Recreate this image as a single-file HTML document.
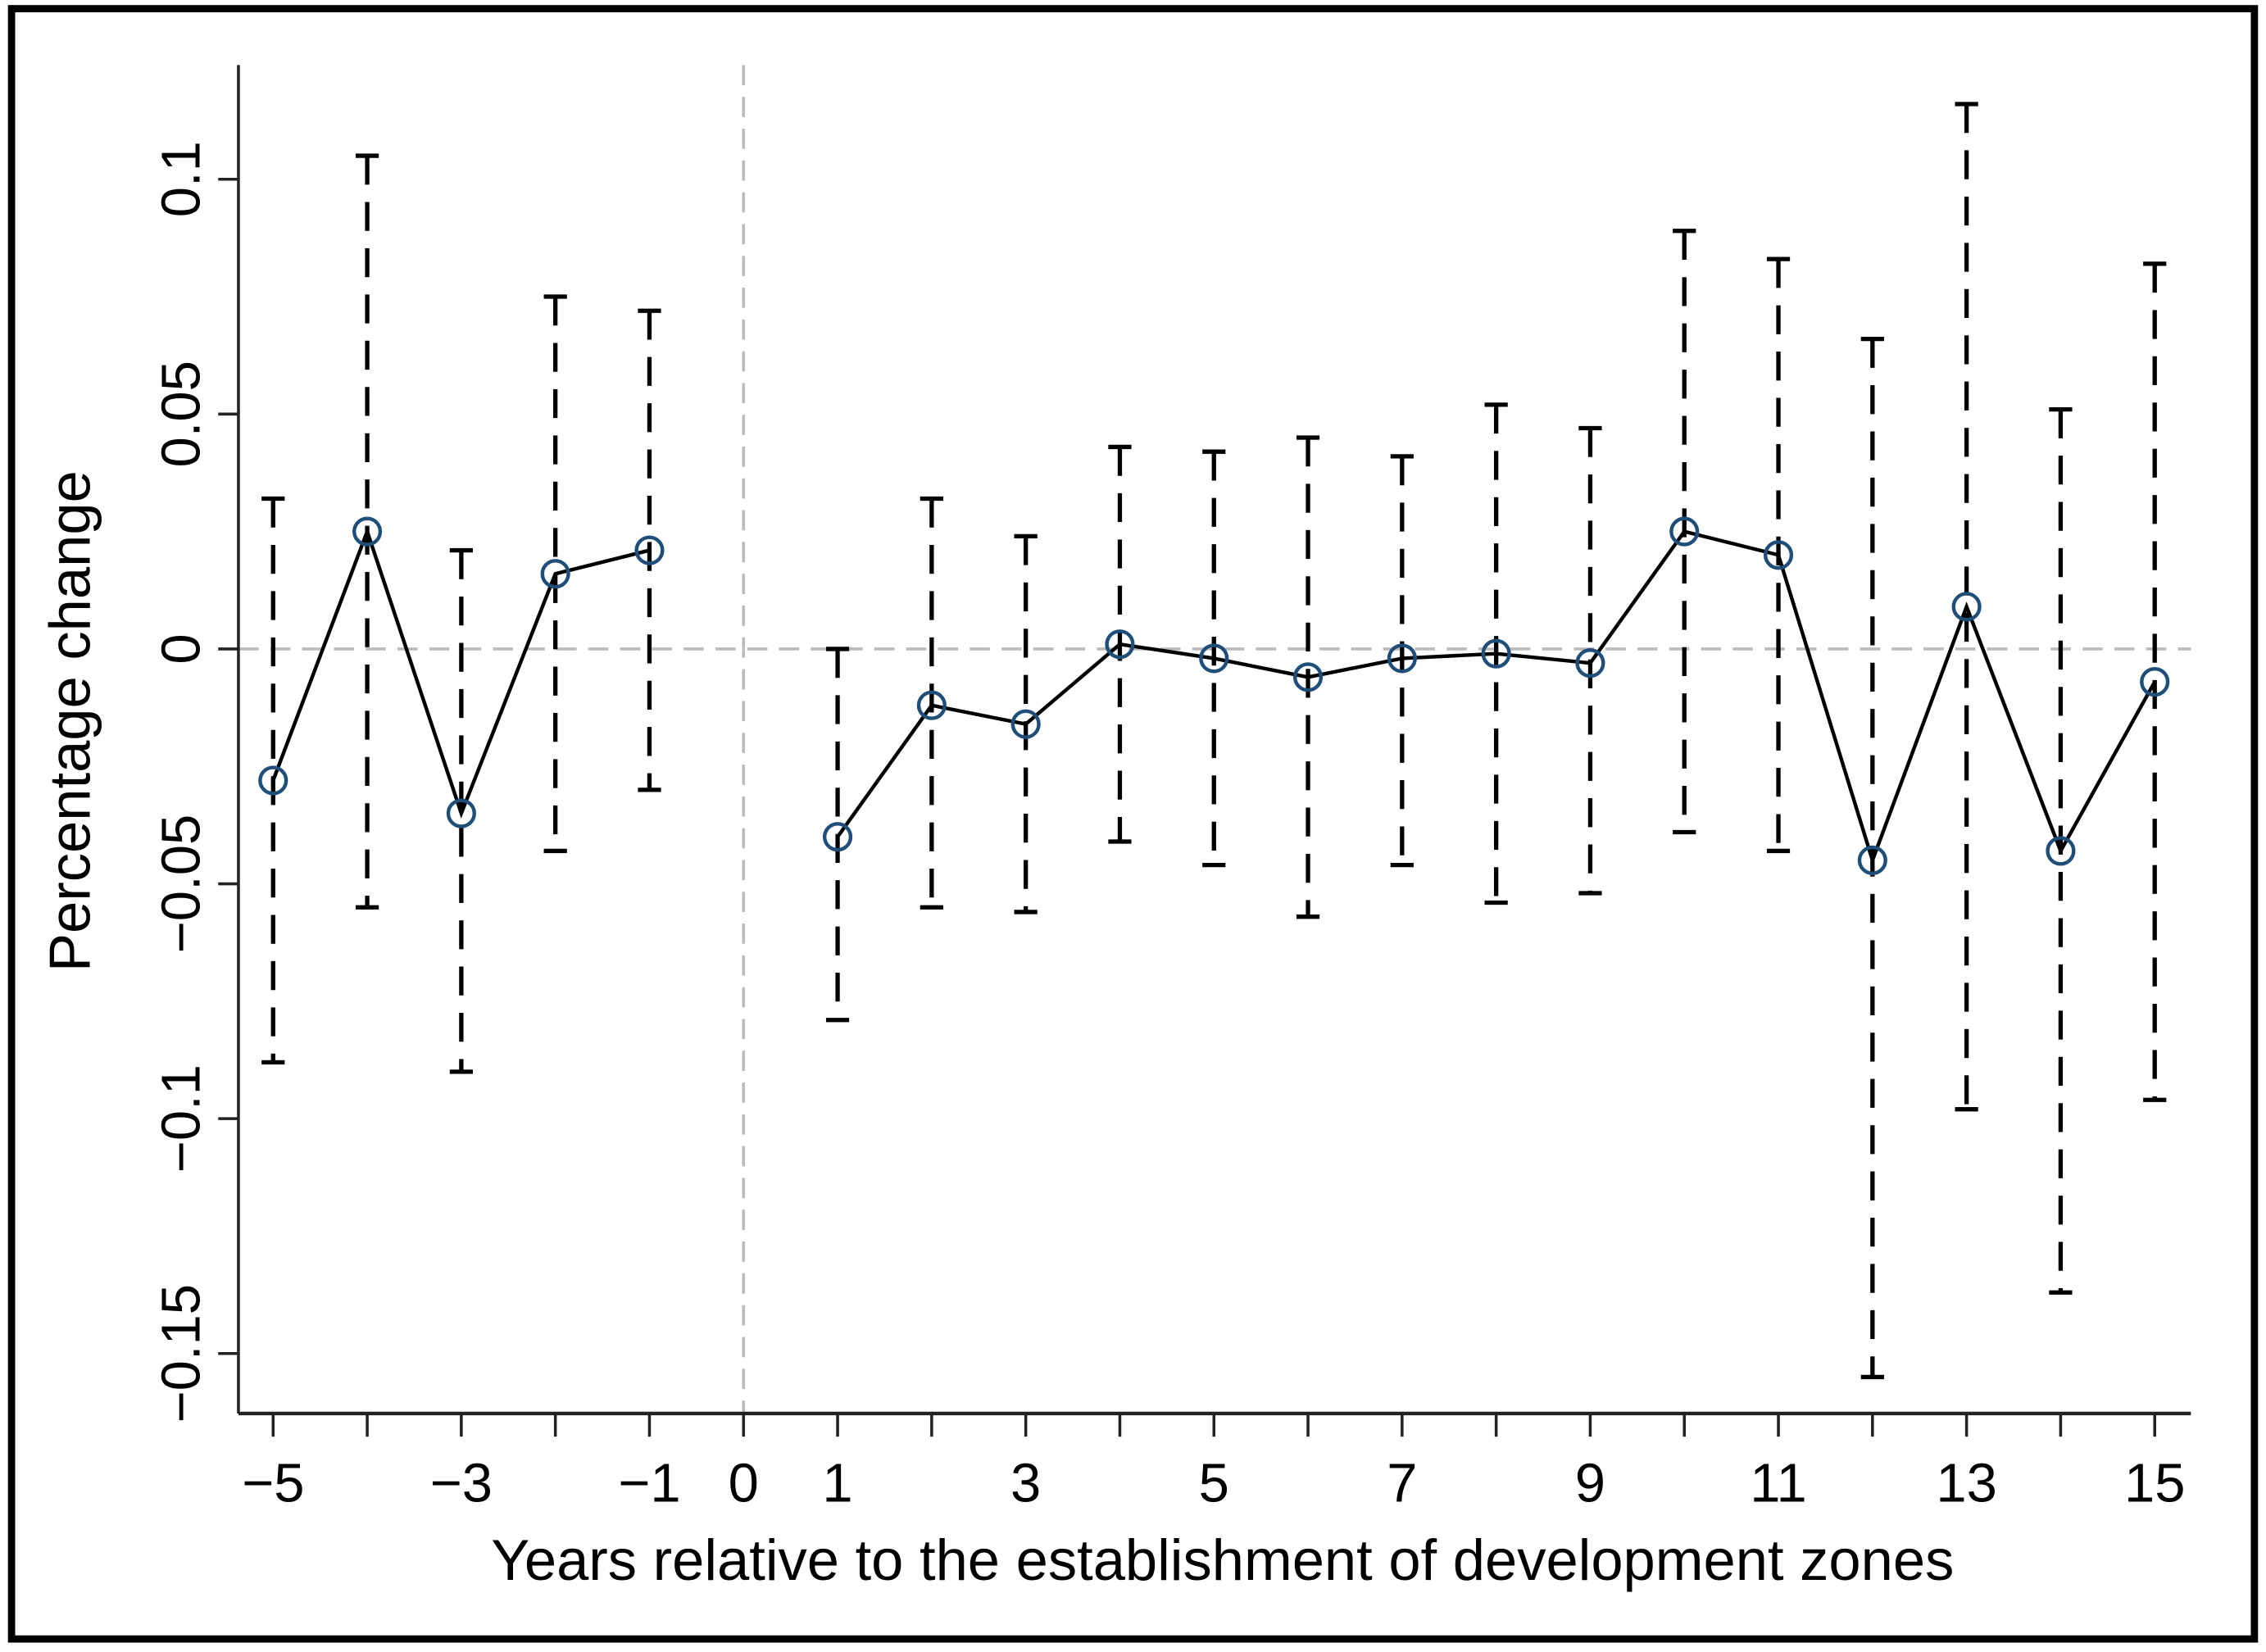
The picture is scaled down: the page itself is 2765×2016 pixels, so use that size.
<!DOCTYPE html>
<html><head><meta charset="utf-8"><style>html,body{margin:0;padding:0;background:#fff}svg{display:block}</style></head>
<body>
<svg id="chart" width="2765" height="2016" viewBox="0 0 1568 1143" preserveAspectRatio="none" xmlns="http://www.w3.org/2000/svg" font-family="'Liberation Sans', sans-serif">
<rect x="0" y="0" width="1568" height="1143" fill="#fff"/>
<rect x="8" y="6" width="1552" height="1128" fill="none" stroke="#000" stroke-width="5"/>
<g id="plot"></g>
</svg>
<script>
const years = [-5,-4,-3,-2,-1,1,2,3,4,5,6,7,8,9,10,11,12,13,14,15];
const estimates = [-0.028,0.025,-0.035,0.016,0.021,-0.040,-0.012,-0.016,0.001,-0.002,-0.006,-0.002,-0.001,-0.003,0.025,0.020,-0.045,0.009,-0.043,-0.007];
const lower = [-0.088,-0.055,-0.090,-0.043,-0.030,-0.079,-0.055,-0.056,-0.041,-0.046,-0.057,-0.046,-0.054,-0.052,-0.039,-0.043,-0.155,-0.098,-0.137,-0.096];
const upper = [0.032,0.105,0.021,0.075,0.072,0.000,0.032,0.024,0.043,0.042,0.045,0.041,0.052,0.047,0.089,0.083,0.066,0.116,0.051,0.082];
const xTicks = [-5,-4,-3,-2,-1,0,1,2,3,4,5,6,7,8,9,10,11,12,13,14,15];
const xLabels = [-5,-3,-1,0,1,3,5,7,9,11,13,15];
const yTicks = [0.1,0.05,0,-0.05,-0.1,-0.15];
const yLabels = ["0.1","0.05","0","\u22120.05","\u22120.1","\u22120.15"];

const NS="http://www.w3.org/2000/svg";
const g=document.getElementById('plot');
const X=v=>189+(v+5)*65.1;
const Y=v=>449-v*3250;
function mk(t,a,p){const e=document.createElementNS(NS,t);for(const k in a)e.setAttribute(k,a[k]);(p||g).appendChild(e);return e;}
const L=165,R=1516,T=45,B=978;

let e=mk('line',{x1:L,x2:R,y1:Y(0),y2:Y(0),stroke:'#bbb','stroke-width':2,'stroke-dasharray':'14 8'});


e=mk('line',{x1:X(0),x2:X(0),y1:T,y2:B,stroke:'#bbb','stroke-width':2,'stroke-dasharray':'14 8'});



e=mk('line',{x1:L,x2:L,y1:T,y2:B,stroke:'#222','stroke-width':2});


e=mk('line',{x1:L,x2:R,y1:B,y2:B,stroke:'#222','stroke-width':2.5});



xTicks.forEach(v=>{
 const t=mk('line',{x1:X(v),x2:X(v),y1:B,y2:B+16,stroke:'#222','stroke-width':2});
 
 
});
xLabels.forEach(v=>{
 const t=mk('text',{x:X(v),y:B+61,'text-anchor':'middle','font-size':38,fill:'#000'});
 t.textContent=v<0?'\u2212'+(-v):String(v);
 
 
});
yTicks.forEach((v,i)=>{
 const t=mk('line',{x1:L-14,x2:L,y1:Y(v),y2:Y(v),stroke:'#222','stroke-width':2});
 
 
 const s=mk('text',{x:0,y:0,'text-anchor':'middle','font-size':38,fill:'#000',transform:`translate(${L-27},${Y(v)}) rotate(-90)`});
 s.textContent=yLabels[i];
 
 
});
e=mk('text',{x:0,y:0,'text-anchor':'middle','font-size':40,fill:'#000',transform:`translate(62,499) rotate(-90)`});
e.textContent='Percentage change';


e=mk('text',{x:846,y:1093,'text-anchor':'middle','font-size':40,fill:'#000'});
e.textContent='Years relative to the establishment of development zones';



years.forEach((yr,i)=>{
 const x=X(yr);
 const b=mk('line',{x1:x,x2:x,y1:Y(upper[i]),y2:Y(lower[i]),stroke:'#000','stroke-width':3,'stroke-dasharray':'20 12'});
 
 
 [upper[i],lower[i]].forEach(v=>{
  const c=mk('line',{x1:x-8,x2:x+8,y1:Y(v),y2:Y(v),stroke:'#000','stroke-width':3});
  
  
 });
});
const pre=[],post=[];
years.forEach((yr,i)=>{(yr<0?pre:post).push(X(yr)+','+Y(estimates[i]));});
e=mk('polyline',{points:pre.join(' '),fill:'none',stroke:'#000','stroke-width':2.5});


e=mk('polyline',{points:post.join(' '),fill:'none',stroke:'#000','stroke-width':2.5});


years.forEach((yr,i)=>{
 const c=mk('circle',{cx:X(yr),cy:Y(estimates[i]),r:9,fill:'none',stroke:'#1f4e79','stroke-width':2.5});
 
 
});
</script>
</body></html>
